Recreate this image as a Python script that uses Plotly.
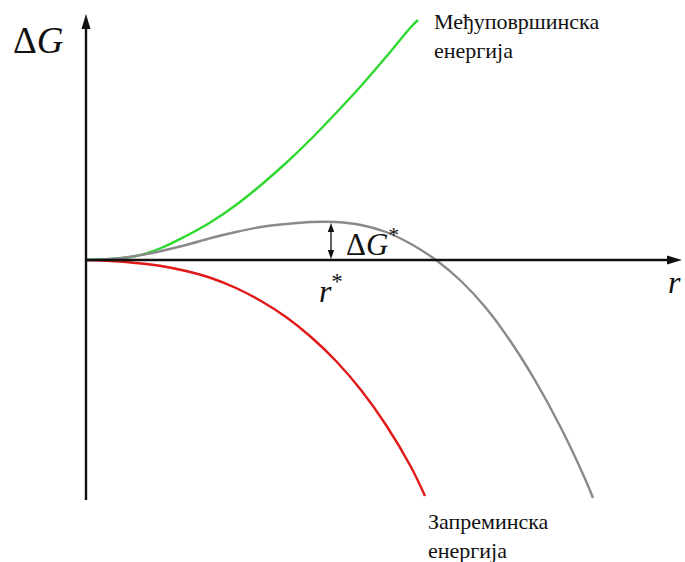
import plotly.graph_objects as go

# Radius r and free-energy values of the three curves (same arbitrary units)
r_surface = [0, 25, 50, 75, 100, 125, 150, 175, 200, 225, 250, 275, 300, 325, 332]
g_surface = [0, 1, 4, 12, 24, 38, 55, 75, 97, 121, 147, 174, 203, 233, 240]

r_volume = [0, 25, 50, 75, 100, 125, 150, 175, 200, 225, 250, 275, 300, 325, 339]
g_volume = [0, -1, -3, -6, -11, -18, -28, -41, -57, -77, -101, -130, -165, -207, -236]

r_total = [0, 25, 50, 75, 100, 125, 150, 175, 200, 225, 250, 275, 300, 325, 350,
           375, 400, 425, 450, 475, 500, 507]
g_total = [0, 1, 4, 9, 15, 22, 28, 33, 36, 38, 38, 35, 28, 16, 0,
           -21, -48, -82, -122, -168, -221, -238]

# Critical radius and barrier height
r_crit = 245
g_crit = 38

fig = go.Figure()

for r, g, color in [
    (r_surface, g_surface, "#2fd82f"),
    (r_volume, g_volume, "#e01818"),
    (r_total, g_total, "#8a8a8a"),
]:
    fig.add_trace(go.Scatter(
        x=r, y=g, mode="lines",
        line=dict(color=color, width=2.4, shape="spline", smoothing=1.0),
        hoverinfo="skip", showlegend=False,
    ))

INK = "#111111"


def tri(tip_x, tip_y, dx, dy, half):
    """Filled arrowhead: tip at (tip_x, tip_y), pointing along (dx, dy)."""
    bx, by = tip_x - dx, tip_y - dy
    nx, ny = -dy, dx
    norm = (nx ** 2 + ny ** 2) ** 0.5
    nx, ny = nx / norm * half, ny / norm * half
    return dict(type="path", xref="x", yref="y",
                path=f"M{tip_x},{tip_y} L{bx + nx},{by + ny} L{bx - nx},{by - ny} Z",
                fillcolor=INK, line=dict(width=0))


shapes = [
    # vertical axis (ΔG) with arrowhead
    dict(type="line", xref="x", yref="y", x0=0, y0=-240, x1=0, y1=236,
         line=dict(color=INK, width=2.4)),
    tri(0, 246, 0, 15, 4.5),
    # horizontal axis (r) with arrowhead
    dict(type="line", xref="x", yref="y", x0=-1, y0=0, x1=586, y1=0,
         line=dict(color=INK, width=2.4)),
    tri(596, 0, 15, 0, 4.5),
    # double arrow marking the barrier height
    dict(type="line", xref="x", yref="y", x0=r_crit, y0=6, x1=r_crit, y1=g_crit - 6,
         line=dict(color=INK, width=1.3)),
    tri(r_crit, g_crit - 1, 0, 9, 3.2),
    tri(r_crit, 1, 0, -9, 3.2),
]

annotations = [
    dict(x=-75, y=220, text="Δ<i>G</i>", showarrow=False,
         xanchor="left", yanchor="middle", font=dict(size=37)),
    dict(x=258, y=18, text="Δ<i>G</i><sup>*</sup>", showarrow=False,
         xanchor="left", yanchor="middle", font=dict(size=31)),
    dict(x=r_crit, y=-29, text="<i>r</i><sup>*</sup>", showarrow=False,
         xanchor="center", yanchor="middle", font=dict(size=32)),
    dict(x=588, y=-22, text="<i>r</i>", showarrow=False,
         xanchor="center", yanchor="middle", font=dict(size=32)),
    dict(x=346, y=224, text="Међуповршинска<br>енергија",
         showarrow=False, xanchor="left", yanchor="middle", align="left",
         font=dict(size=22)),
    dict(x=340, y=-276, text="Запреминска<br>енергија",
         showarrow=False, xanchor="left", yanchor="middle", align="left",
         font=dict(size=22)),
]
for a in annotations:
    a["xref"] = "x"
    a["yref"] = "y"

fig.update_layout(
    width=685, height=562,
    margin=dict(l=0, r=0, t=0, b=0),
    paper_bgcolor="white", plot_bgcolor="white",
    font=dict(family="Liberation Serif, Times New Roman, serif", color=INK),
    xaxis=dict(range=[-86, 599], visible=False, fixedrange=True),
    yaxis=dict(range=[-302, 260], visible=False, fixedrange=True),
    shapes=shapes,
    annotations=annotations,
)

fig.write_html("out.html")
